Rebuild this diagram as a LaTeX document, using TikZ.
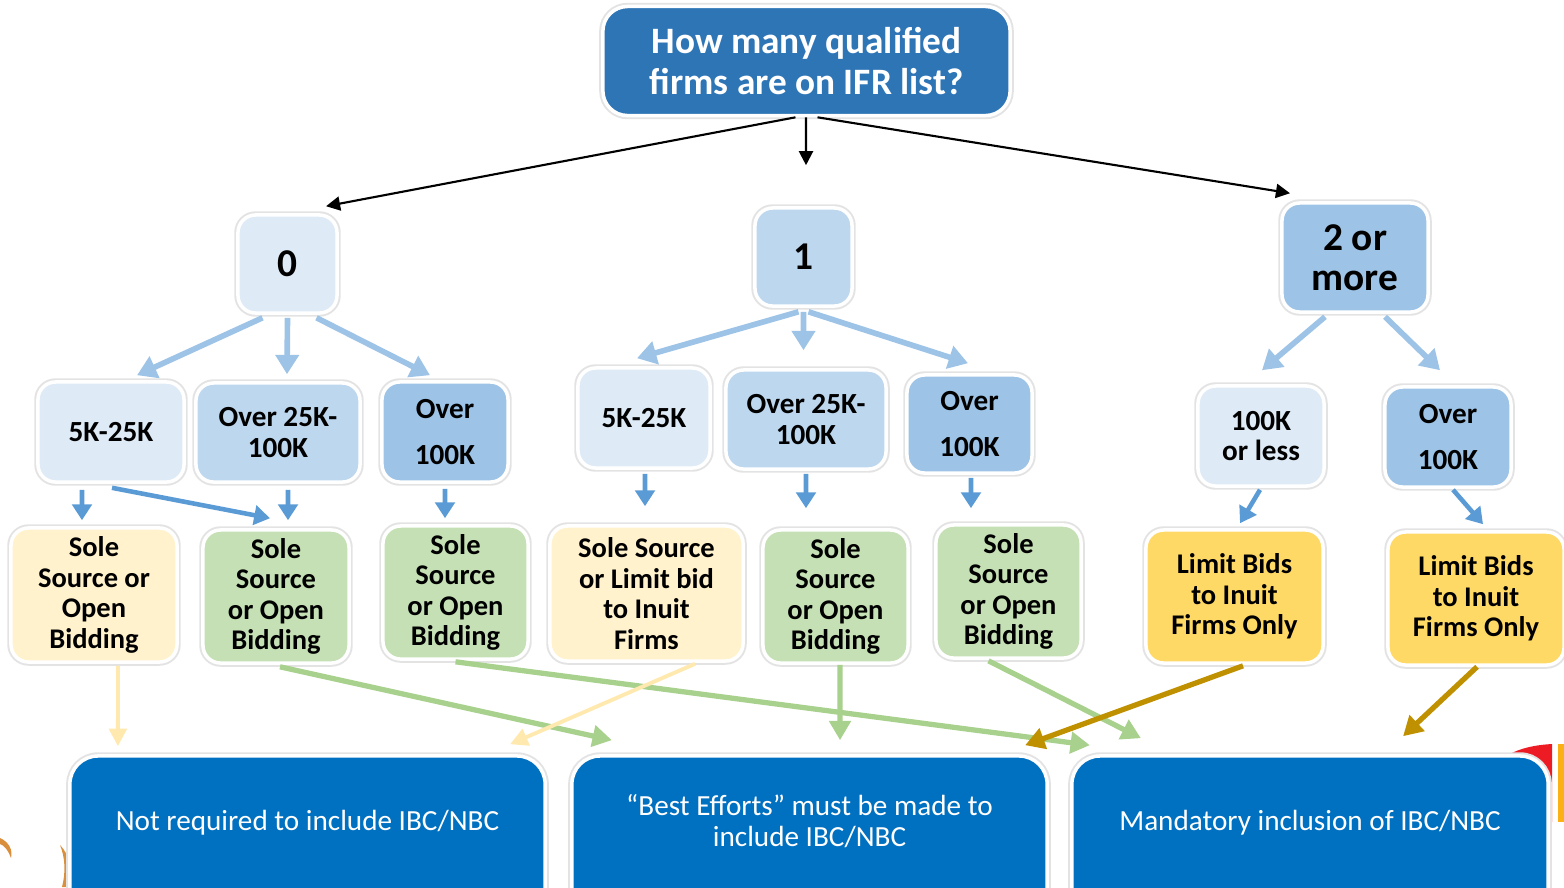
\documentclass[tikz,border=0pt]{standalone}
\usepackage{fontspec}
\setmainfont{Carlito}
\usetikzlibrary{arrows.meta}

\definecolor{qblue}{HTML}{2E75B6}
\definecolor{lite}{HTML}{DEEBF7}
\definecolor{mid}{HTML}{BDD7EE}
\definecolor{dark}{HTML}{9DC3E6}
\definecolor{soleyel}{HTML}{FFF2CC}
\definecolor{solegrn}{HTML}{C5E0B4}
\definecolor{limgold}{HTML}{FFD966}
\definecolor{endblue}{HTML}{0070C0}
\definecolor{arrlb}{HTML}{9DC3E6}
\definecolor{arrmb}{HTML}{5B9BD5}
\definecolor{arrgr}{HTML}{A9D18E}
\definecolor{arryl}{HTML}{FFE9AE}
\definecolor{arrgd}{HTML}{BF9000}
\definecolor{decor}{HTML}{DA8F3C}
\definecolor{decred}{HTML}{ED1C24}
\definecolor{decorg}{HTML}{FBB116}

\begin{document}
\begin{tikzpicture}
    [x=0.01cm, y=-0.01cm,
     box/.style={rounded corners=5pt, draw=white, line width=1pt,
                 preaction={draw=black!11, line width=2.1pt},
                 align=center, inner sep=0pt},
     numbox/.style={box, font=\bfseries\fontsize{11.2}{11.4}\selectfont},
     lvlbox/.style={box, font=\bfseries\fontsize{8.3}{8.8}\selectfont},
     solebox/.style={box, font=\bfseries\fontsize{8.1}{8.7}\selectfont},
     endbox/.style={box, rounded corners=8pt, fill=endblue, text=white,
                    font=\fontsize{8.3}{8.8}\selectfont,
                    minimum width=4.75cm, minimum height=1.6cm,
                    text height=6.2pt, text depth=9.1pt},
     blk/.style={draw=black, line width=0.6pt, -{Triangle[length=4pt,width=4pt]}},
     lb/.style={draw=arrlb, line width=1.6pt, -{Triangle[length=5.5pt,width=6.5pt]}},
     mb/.style={draw=arrmb, line width=1.3pt, -{Triangle[length=4.5pt,width=5.5pt]}},
     ga/.style={draw=arrgr, line width=1.5pt, -{Triangle[length=5.5pt,width=6pt]}},
     ya/.style={draw=arryl, line width=1.1pt, -{Triangle[length=5pt,width=5pt]}},
     oa/.style={draw=arrgd, line width=1.5pt, -{Triangle[length=5.5pt,width=6pt]}}]

    \useasboundingbox (0, 0) rectangle (1564, 887);

    \fill [decor] (0, 838) .. controls (9, 842) and (13, 850) .. (11, 858)
        .. controls (8, 850) and (4, 845) .. (0, 844) -- cycle;
    \fill [decor] (60, 845) .. controls (70, 855) and (72, 870) .. (70, 887)
        -- (62, 887) .. controls (66, 872) and (65, 857) .. (60, 845) -- cycle;
    \fill [decred] (1503, 758) .. controls (1518, 748) and (1535, 745) .. (1552, 744)
        -- (1552, 822) -- (1540, 822) -- cycle;
    \fill [decorg] (1558, 744) rectangle (1564, 822);

    \node [box, fill=qblue, text=white, rounded corners=7pt,
           font=\bfseries\fontsize{10.6}{11.4}\selectfont,
           minimum width=4.07cm, minimum height=1.09cm]
          at (806.5, 61) (top) {How many qualified\\firms are on IFR list?};

    \node [numbox, fill=lite, minimum width=0.99cm, minimum height=0.98cm] at (287.5, 264) (n0) {0};
    \node [numbox, fill=mid, minimum width=0.97cm, minimum height=0.98cm] at (803.5, 257) (n1) {1};
    \node [numbox, fill=dark, minimum width=1.46cm, minimum height=1.09cm] at (1355, 257.5) (n2) {2 or\\more};

    \node [lvlbox, fill=lite, minimum width=1.46cm, minimum height=1.00cm] at (111, 432) (a1) {5K-25K};
    \node [lvlbox, fill=mid, minimum width=1.64cm, minimum height=0.99cm] at (278, 432.5) (a2) {Over 25K-\\100K};
    \node [lvlbox, fill=dark, minimum width=1.26cm, minimum height=1.00cm] at (445, 432) (a3) {Over\\[4.2pt]100K};

    \node [lvlbox, fill=lite, minimum width=1.32cm, minimum height=1.00cm] at (644, 418) (b1) {5K-25K};
    \node [lvlbox, fill=mid, minimum width=1.60cm, minimum height=0.99cm] at (806, 419.5) (b2) {Over 25K-\\100K};
    \node [lvlbox, fill=dark, minimum width=1.25cm, minimum height=0.98cm] at (969.5, 424) (b3) {Over\\[4.2pt]100K};

    \node [lvlbox, fill=lite, minimum width=1.26cm, minimum height=1.00cm] at (1261, 436) (c1) {100K\\or less};
    \node [lvlbox, fill=dark, minimum width=1.26cm, minimum height=1.00cm] at (1448, 437) (c2) {Over\\[4.2pt]100K};

    \node [solebox, fill=soleyel, minimum width=1.66cm, minimum height=1.34cm] at (94, 595) (sa1) {Sole\\Source or\\Open\\Bidding};
    \node [solebox, fill=solegrn, minimum width=1.46cm, minimum height=1.33cm] at (276, 596.5) (sa2) {Sole\\Source\\or Open\\Bidding};
    \node [solebox, fill=solegrn, minimum width=1.45cm, minimum height=1.33cm] at (455.5, 592.5) (sa3) {Sole\\Source\\or Open\\Bidding};

    \node [solebox, fill=soleyel, minimum width=1.93cm, minimum height=1.35cm] at (646.5, 593.5) (sb1) {Sole Source\\or Limit bid\\to Inuit\\Firms};
    \node [solebox, fill=solegrn, minimum width=1.45cm, minimum height=1.33cm] at (835.5, 596.5) (sb2) {Sole\\Source\\or Open\\Bidding};
    \node [solebox, fill=solegrn, minimum width=1.45cm, minimum height=1.33cm] at (1008.5, 591.5) (sb3) {Sole\\Source\\or Open\\Bidding};

    \node [solebox, fill=limgold, minimum width=1.77cm, minimum height=1.33cm] at (1234.5, 596.5) (sc1) {Limit Bids\\to Inuit\\Firms Only};
    \node [solebox, fill=limgold, minimum width=1.76cm, minimum height=1.33cm] at (1476, 598.5) (sc2) {Limit Bids\\to Inuit\\Firms Only};

    \node [endbox] at (307.5, 836) (d1) {Not required to include IBC/NBC};
    \node [endbox, text depth=0pt] at (809.5, 836) (d2) {“Best Efforts” must be made to\\include IBC/NBC};
    \node [endbox, minimum width=4.76cm] at (1310, 836) (d3) {Mandatory inclusion of IBC/NBC};

    \draw [blk] ([xshift=-0.11cm]top.south) -- ([xshift=0.385cm, yshift=0.07cm]n0.north);
    \draw [blk] ([xshift=-0.005cm]top.south) -- ([xshift=0.025cm, yshift=0.41cm]n1.north);
    \draw [blk] ([xshift=0.11cm]top.south) -- ([xshift=-0.65cm, yshift=0.08cm]n2.north);

    \draw [lb] ([xshift=-0.25cm, yshift=-0.03cm]n0.south) -- ([xshift=0.26cm, yshift=0.05cm]a1.north);
    \draw [lb] ([yshift=-0.03cm]n0.south) -- ([xshift=0.09cm, yshift=0.07cm]a2.north);
    \draw [lb] ([xshift=0.29cm, yshift=-0.03cm]n0.south) -- ([xshift=-0.15cm, yshift=0.05cm]a3.north);

    \draw [lb] ([xshift=-0.05cm, yshift=-0.04cm]n1.south) -- ([xshift=-0.07cm, yshift=0.08cm]b1.north);
    \draw [lb] ([yshift=-0.04cm]n1.south) -- ([xshift=-0.025cm, yshift=0.18cm]b2.north);
    \draw [lb] ([xshift=0.05cm, yshift=-0.04cm]n1.south) -- ([xshift=-0.015cm, yshift=0.10cm]b3.north);

    \draw [lb] ([xshift=-0.30cm, yshift=-0.03cm]n2.south) -- ([xshift=0.01cm, yshift=0.14cm]c1.north);
    \draw [lb] ([xshift=0.30cm, yshift=-0.03cm]n2.south) -- ([xshift=-0.08cm, yshift=0.15cm]c2.north);

    \draw [mb] ([xshift=-0.29cm, yshift=-0.06cm]a1.south) -- ([xshift=-0.12cm, yshift=0.06cm]sa1.north);
    \draw [mb] ([xshift=0.01cm, yshift=-0.04cm]a1.south) -- ([xshift=-0.06cm, yshift=0.10cm]sa2.north);
    \draw [mb] ([xshift=0.10cm, yshift=-0.06cm]a2.south) -- ([xshift=0.12cm, yshift=0.08cm]sa2.north);
    \draw [mb] ([yshift=-0.05cm]a3.south) -- ([xshift=-0.105cm, yshift=0.06cm]sa3.north);

    \draw [mb] ([xshift=0.01cm, yshift=-0.04cm]b1.south) -- ([xshift=-0.015cm, yshift=0.18cm]sb1.north);
    \draw [mb] ([yshift=-0.03cm]b2.south) -- ([xshift=-0.295cm, yshift=0.20cm]sb2.north);
    \draw [mb] ([xshift=0.015cm, yshift=-0.03cm]b3.south) -- ([xshift=-0.375cm, yshift=0.15cm]sb3.north);

    \draw [mb] ([xshift=-0.01cm, yshift=-0.02cm]c1.south) -- ([xshift=0.055cm, yshift=0.05cm]sc1.north);
    \draw [mb] ([xshift=0.05cm, yshift=-0.01cm]c2.south) -- ([xshift=0.07cm, yshift=0.06cm]sc2.north);

    \draw [ya] ([xshift=0.24cm, yshift=-0.02cm]sa1.south) -- ([xshift=-1.895cm, yshift=0.08cm]d1.north);
    \draw [ga] ([xshift=0.04cm, yshift=-0.02cm]sa2.south) -- ([xshift=-1.975cm, yshift=0.14cm]d2.north);
    \draw [ga] ([yshift=-0.01cm]sa3.south) -- ([xshift=-2.20cm, yshift=0.09cm]d3.north);
    \draw [ya] ([xshift=0.485cm, yshift=-0.01cm]sb1.south) -- ([xshift=2.025cm, yshift=0.10cm]d1.north);
    \draw [ga] ([xshift=0.045cm]sb2.south) -- ([xshift=0.305cm, yshift=0.14cm]d2.north);
    \draw [ga] ([xshift=-0.2cm, yshift=-0.01cm]sb3.south) -- ([xshift=-1.69cm, yshift=0.16cm]d3.north);
    \draw [oa] ([xshift=0.085cm, yshift=-0.01cm]sc1.south) -- ([xshift=2.155cm, yshift=0.09cm]d2.north);
    \draw [oa] ([xshift=0.01cm]sc2.south) -- ([xshift=0.93cm, yshift=0.18cm]d3.north);

  \end{tikzpicture}
\end{document}
